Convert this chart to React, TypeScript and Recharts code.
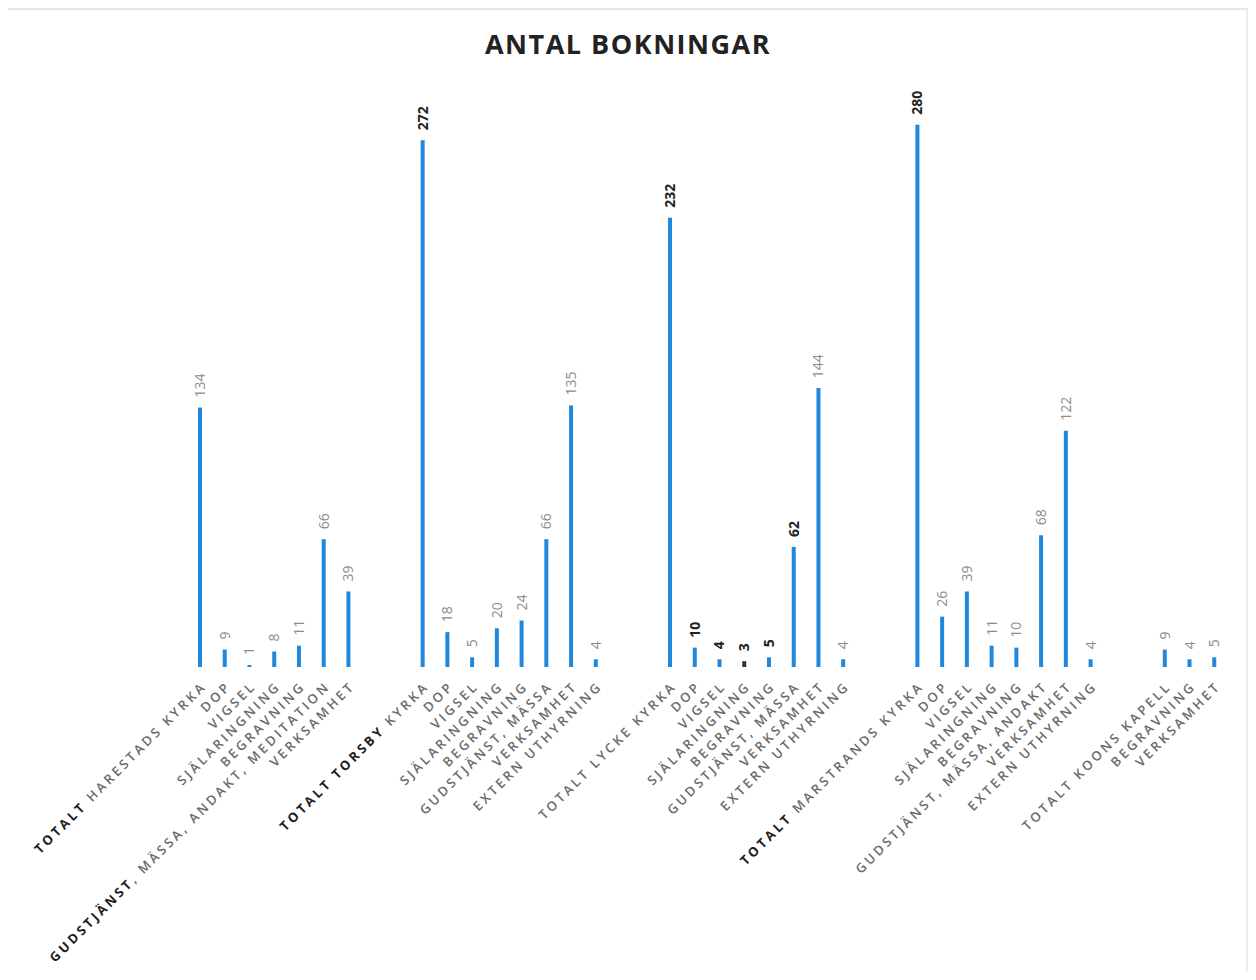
import { BarChart, Bar, XAxis, YAxis, LabelList, Cell } from 'recharts'

// kategorier, tomma strängar = mellanrum mellan kyrkorna
const categories = [
  'TOTALT HARESTADS KYRKA', 'DOP', 'VIGSEL', 'SJÄLARINGNING', 'BEGRAVNING',
  'GUDSTJÄNST, MÄSSA, ANDAKT, MEDITATION', 'VERKSAMHET',
  '', '',
  'TOTALT TORSBY KYRKA', 'DOP', 'VIGSEL', 'SJÄLARINGNING', 'BEGRAVNING',
  'GUDSTJÄNST, MÄSSA', 'VERKSAMHET', 'EXTERN UTHYRNING',
  '', '',
  'TOTALT LYCKE KYRKA', 'DOP', 'VIGSEL', 'SJÄLARINGNING', 'BEGRAVNING',
  'GUDSTJÄNST, MÄSSA', 'VERKSAMHET', 'EXTERN UTHYRNING',
  '', '',
  'TOTALT MARSTRANDS KYRKA', 'DOP', 'VIGSEL', 'SJÄLARINGNING', 'BEGRAVNING',
  'GUDSTJÄNST, MÄSSA, ANDAKT', 'VERKSAMHET', 'EXTERN UTHYRNING',
  '', '',
  'TOTALT KOONS KAPELL', 'BEGRAVNING', 'VERKSAMHET',
]

const harestad = [134, 9, 1, 8, 11, 66, 39]
const torsby = [272, 18, 5, 20, 24, 66, 135, 4]
const lycke = [232, 10, 4, 3, 5, 62, 144, 4]
const marstrand = [280, 26, 39, 11, 10, 68, 122, 4]
const koon = [9, 4, 5]

const gap = [null, null]
const values: (number | null)[] = [
  ...harestad, ...gap, ...torsby, ...gap, ...lycke, ...gap, ...marstrand, ...gap, ...koon,
]

const data = categories.map((name, i) => ({ i, name, v: values[i] }))
// LabelList räknar bara staplar med värde
const labelled = data.filter((d) => d.v != null).map((d) => d.i)

// etiketter som är mörka/feta i originalet
const darkValues = new Set([9, 19, 20, 21, 22, 23, 24, 29])
const darkPrefix: Record<number, string> = {
  0: 'TOTALT',
  5: 'GUDSTJÄNST',
  9: 'TOTALT TORSBY',
  29: 'TOTALT',
}

const BLUE = '#1f87dd'
const GREY = '#6a6a6a'
const FONT = '"Open Sans", "Noto Sans", sans-serif'

function CategoryTick({ x, y, payload }: any) {
  const label = categories[payload.value] ?? ''
  if (!label) return null
  const prefix = darkPrefix[payload.value]
  const rest = prefix ? label.slice(prefix.length) : label
  const tx = x + 7
  const ty = y + 12
  return (
    <text
      x={tx}
      y={ty}
      transform={`rotate(-45, ${tx}, ${ty})`}
      textAnchor="end"
      fontFamily={FONT}
      fontSize={13}
      fontWeight={600}
      letterSpacing={3}
      fill={GREY}
    >
      {prefix && (
        <tspan fill="#1e1e1e" fontWeight={700}>{prefix}</tspan>
      )}
      <tspan>{rest}</tspan>
    </text>
  )
}

function ValueLabel({ x, y, width, value, index }: any) {
  if (value == null) return null
  const cx = x + width / 2 + 5
  const cy = y - 10
  const dark = darkValues.has(labelled[index])
  return (
    <text
      x={cx}
      y={cy}
      transform={`rotate(-90, ${cx}, ${cy})`}
      textAnchor="start"
      fontFamily={FONT}
      fontSize={14}
      fontWeight={dark ? 700 : 400}
      fill={dark ? '#222' : '#8c8c8c'}
    >
      {value}
    </text>
  )
}

export default function App() {
  return (
    <div
      style={{
        position: 'relative',
        width: 1240,
        height: 964,
        background: '#fff',
        borderTop: '2px solid #e6e6e6',
        borderRight: '2px solid #ececec',
        boxSizing: 'border-box',
      }}
    >
      <div
        style={{
          position: 'absolute',
          top: 15,
          left: 0,
          width: 1240,
          textAlign: 'center',
          fontFamily: FONT,
          fontWeight: 700,
          fontSize: 27,
          letterSpacing: 1.5,
          color: '#222',
        }}
      >
        ANTAL BOKNINGAR
      </div>
      <BarChart
        width={1238}
        height={962}
        data={data}
        margin={{ top: 76, right: 19, bottom: 0, left: 180 }}
        barCategoryGap={0}
      >
        <XAxis
          dataKey="i"
          type="category"
          interval={0}
          axisLine={false}
          tickLine={false}
          height={305}
          tick={<CategoryTick />}
        />
        <YAxis hide domain={[0, 300]} />
        <Bar dataKey="v" fill={BLUE} barSize={4} isAnimationActive={false}>
          {data.map((d) => (
            <Cell key={d.i} fill={d.i === 22 ? '#333' : BLUE} />
          ))}
          <LabelList dataKey="v" content={<ValueLabel />} />
        </Bar>
      </BarChart>
    </div>
  )
}
